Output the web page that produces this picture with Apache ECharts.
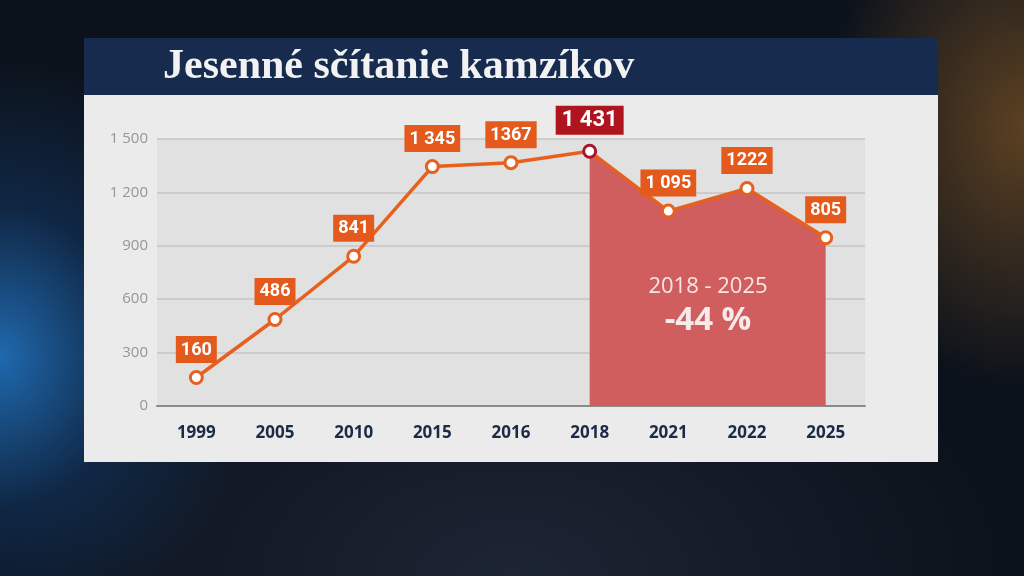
<!DOCTYPE html>
<html>
<head>
<meta charset="utf-8">
<script src="https://cdn.jsdelivr.net/npm/echarts@6/dist/echarts.min.js"></script>
<style>
html,body{margin:0;padding:0;width:1024px;height:576px;overflow:hidden;}
body{background:
 radial-gradient(ellipse 260px 300px at 0% 62%, rgba(35,120,200,0.85), rgba(20,70,130,0.4) 50%, transparent 100%),
 radial-gradient(ellipse 200px 260px at 100% 22%, rgba(170,110,40,0.5), transparent 100%),
 radial-gradient(ellipse 500px 300px at 50% 100%, rgba(40,50,70,0.6), transparent 100%),
 #0c121b;}
#c{width:1024px;height:576px;}
</style>
</head>
<body>
<div id="c"></div>
<script>
const categories = ['1999','2005','2010','2015','2016','2018','2021','2022','2025'];
const values = [160, 486, 841, 1345, 1367, 1431, 1095, 1222, 945];
const valueLabels = ['160','486','841','1 345','1367','1 431','1 095','1222','805'];
const yTicks = [0, 300, 600, 900, 1200, 1500];
const highlightIndex = 5;
const areaStart = 5;
const titleText = 'Jesenné sčítanie kamzíkov';
const noteRange = '2018 - 2025';
const notePct = '-44 %';

const chart = echarts.init(document.getElementById('c'));
const lineData = values.map((v, i) => {
  if (i === highlightIndex) {
    return {
      value: v,
      itemStyle: {borderColor: '#a8162a'},
      label: {backgroundColor: '#b0151f', fontSize: 22, padding: [4, 6, 3, 6], distance: 9}
    };
  }
  return v;
});
const areaData = values.map((v, i) => i >= areaStart ? v : null);

chart.setOption({
  backgroundColor: 'transparent',
  animation: false,
  title: {
    text: titleText,
    left: 158, top: 41,
    textStyle: {fontFamily: 'Liberation Serif', fontWeight: 'bold', fontSize: 42, color: '#f2f2f2'}
  },
  graphic: [
    {type: 'rect', z: -100, shape: {x: 84, y: 38, width: 854, height: 57}, style: {fill: '#172b4e'}},
    {type: 'rect', z: -100, shape: {x: 84, y: 95, width: 854, height: 367}, style: {fill: '#ebebeb'}},
    {type: 'text', z: 100, style: {text: noteRange, x: 708, y: 287, textAlign: 'center', textVerticalAlign: 'middle', fill: '#f7e6e6', fontSize: 22, fontFamily: 'Open Sans'}},
    {type: 'text', z: 100, style: {text: notePct, x: 708, y: 321, textAlign: 'center', textVerticalAlign: 'middle', fill: '#f7eaea', fontSize: 33, fontWeight: 'bold', fontFamily: 'Open Sans'}}
  ],
  grid: {left: 157, right: 159, top: 139, bottom: 170, show: true, backgroundColor: '#e1e1e1', borderWidth: 0},
  xAxis: {
    type: 'category',
    data: categories,
    boundaryGap: true,
    axisLine: {lineStyle: {color: '#8a8a8a', width: 2}},
    axisTick: {show: false},
    axisLabel: {color: '#1b2a47', fontSize: 17, fontWeight: 'bold', fontFamily: 'Open Sans', margin: 19}
  },
  yAxis: {
    type: 'value',
    min: 0, max: 1500, interval: 300,
    axisLine: {show: false},
    axisTick: {show: false},
    splitLine: {lineStyle: {color: '#c4c4c4', width: 1.5}},
    axisLabel: {
      color: '#969696', fontSize: 15, fontFamily: 'Open Sans', margin: 9,
      formatter: v => yTicks.includes(v) ? String(v).replace(/\B(?=(\d{3})+(?!\d))/g, ' ') : ''
    }
  },
  series: [
    {
      type: 'line',
      data: areaData,
      symbol: 'none',
      lineStyle: {width: 0},
      areaStyle: {color: '#d05e5e', opacity: 1},
      z: 1,
      silent: true
    },
    {
      type: 'line',
      data: lineData,
      symbol: 'circle',
      symbolSize: 12,
      itemStyle: {color: '#ffffff', borderColor: '#e8601e', borderWidth: 3},
      lineStyle: {color: '#e8601e', width: 3.5},
      z: 3,
      label: {
        show: true,
        position: 'top',
        distance: 7,
        formatter: p => valueLabels[p.dataIndex],
        backgroundColor: '#e35a1c',
        color: '#ffffff',
        fontSize: 18,
        fontWeight: 'bold',
        fontFamily: 'Roboto',
        padding: [3, 5, 2, 5],
        lineHeight: 22
      }
    }
  ]
});
</script>
</body>
</html>
